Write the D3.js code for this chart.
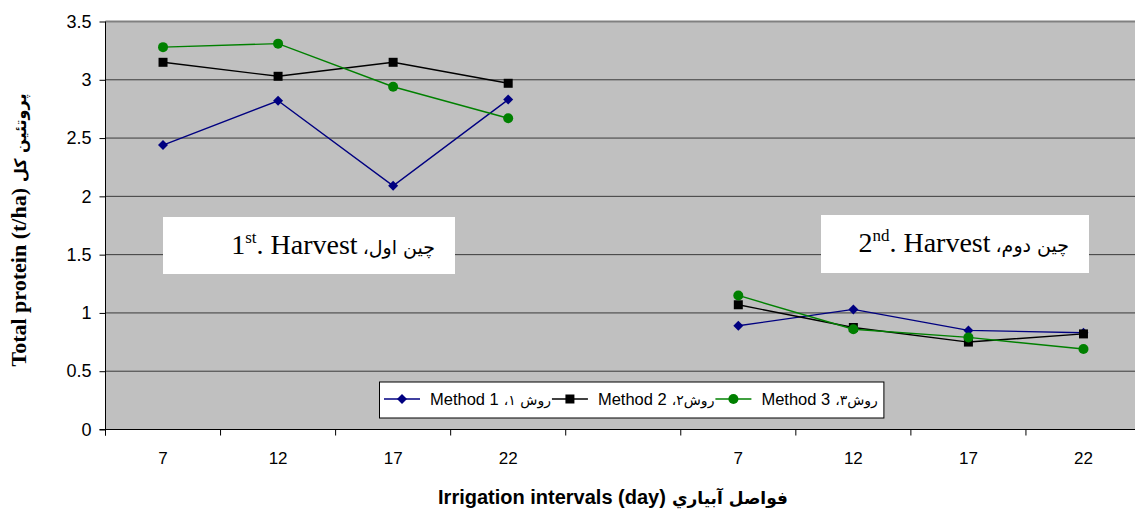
<!DOCTYPE html>
<html>
<head>
<meta charset="utf-8">
<script src="https://cdn.jsdelivr.net/npm/d3@7"></script>
<style>
  body { margin: 0; background: #fff; }
  svg { display: block; }
</style>
</head>
<body>
<div id="chart"></div>
<script>
// values
const tickLabels = ['7', '12', '17', '22', '', '7', '12', '17', '22'];
const method1 = [2.44, 2.82, 2.09, 2.83, null, 0.89, 1.03, 0.85, 0.83];
const method2 = [3.15, 3.03, 3.15, 2.97, null, 1.07, 0.875, 0.75, 0.82];
const method3 = [3.28, 3.31, 2.94, 2.67, null, 1.15, 0.86, 0.79, 0.69];
const yTicks = [0, 0.5, 1, 1.5, 2, 2.5, 3, 3.5];

const series = [
  {name: 'Method 1', fa: 'روش ۱،', values: method1, color: '#000080', marker: 'diamond'},
  {name: 'Method 2', fa: 'روش۲،', values: method2, color: '#000000', marker: 'square'},
  {name: 'Method 3', fa: 'روش۳،', values: method3, color: '#008000', marker: 'circle'}
];

const W = 1135, H = 511;
const margin = {top: 21.5, left: 105.5, bottom: 429.5, right: 1141};

const svg = d3.select('#chart').append('svg')
    .attr('width', W)
    .attr('height', H);

const x = d3.scaleBand()
    .domain(d3.range(tickLabels.length))
    .range([margin.left, margin.right]);

const y = d3.scaleLinear()
    .domain([0, 3.5])
    .range([margin.bottom, margin.top]);

const sans = 'Liberation Sans, Arial, DejaVu Sans, sans-serif';
const serif = 'Liberation Serif, Times New Roman, DejaVu Sans, serif';
const arab = 'DejaVu Sans, Noto Sans, sans-serif';

// plot background
svg.append('rect')
    .attr('x', margin.left)
    .attr('y', y(3.5))
    .attr('width', margin.right - margin.left)
    .attr('height', y(0) - y(3.5))
    .attr('fill', '#c0c0c0');

// gridlines
svg.append('g')
  .selectAll('line')
  .data(yTicks.filter(d => d > 0))
  .join('line')
    .attr('x1', margin.left)
    .attr('x2', margin.right)
    .attr('y1', d => y(d))
    .attr('y2', d => y(d))
    .attr('stroke', d => d === 3.5 ? '#808080' : '#3a3a3a')
    .attr('stroke-width', d => d === 3.5 ? 2 : 1);

// y axis
svg.append('g')
    .attr('transform', `translate(${margin.left},0)`)
    .call(d3.axisLeft(y).tickValues(yTicks).tickSize(6).tickPadding(8).tickFormat(d => String(d)))
    .call(g => g.select('.domain').attr('d', `M0,${y(3.5)}V${y(0) + 6}`).attr('stroke', '#000'))
    .call(g => g.selectAll('.tick line').attr('stroke', '#000'))
    .call(g => g.selectAll('.tick text')
        .attr('font-family', sans)
        .attr('font-size', 18)
        .attr('fill', '#000'));

// x axis: ticks on band edges, labels in the middle
const xAxis = svg.append('g')
    .attr('transform', `translate(0,${margin.bottom})`);
xAxis.append('line')
    .attr('x1', margin.left - 6)
    .attr('x2', W)
    .attr('stroke', '#000');
xAxis.selectAll('.edge')
  .data(d3.range(tickLabels.length + 1))
  .join('line')
    .attr('class', 'edge')
    .attr('x1', i => i < tickLabels.length ? x(i) : margin.right)
    .attr('x2', i => i < tickLabels.length ? x(i) : margin.right)
    .attr('y2', 6)
    .attr('stroke', '#000');
xAxis.call(d3.axisBottom(x).tickSize(0).tickPadding(22).tickFormat(i => tickLabels[i]))
    .call(g => g.select('.domain').remove())
    .call(g => g.selectAll('.tick text')
        .attr('font-family', sans)
        .attr('font-size', 17)
        .attr('fill', '#000'));

// helper: latin part followed by an rtl persian part
function bidi(g, latin, fa, latinFont, faFont, size, faSize, weight, gap) {
  const t1 = g.append('text')
      .attr('font-family', latinFont)
      .attr('font-size', size)
      .attr('font-weight', weight)
      .text(latin);
  const w1 = t1.node().getComputedTextLength();
  const t2 = g.append('text')
      .attr('font-family', faFont)
      .attr('font-size', faSize)
      .attr('font-weight', weight)
      .attr('direction', 'rtl')
      .attr('text-anchor', 'end')
      .text(fa);
  const w2 = t2.node().getComputedTextLength();
  t2.attr('x', w1 + gap);
  return {t1, t2, width: w1 + gap + w2};
}

// harvest boxes
const boxes = [
  {x0: 163, x1: 455, y0: 217, y1: 274, num: '1', sup: 'st', fa: 'چین اول،'},
  {x0: 821, x1: 1089, y0: 215, y1: 273, num: '2', sup: 'nd', fa: 'چین دوم،'}
];
boxes.forEach(b => {
  svg.append('rect')
      .attr('x', b.x0).attr('y', b.y0)
      .attr('width', b.x1 - b.x0).attr('height', b.y1 - b.y0)
      .attr('fill', '#fff');
  const g = svg.append('g');
  const t = g.append('text')
      .attr('font-family', serif)
      .attr('font-size', 28)
      .attr('fill', '#000');
  t.append('tspan').text(b.num);
  t.append('tspan').attr('font-size', 17).attr('dy', -11).text(b.sup);
  t.append('tspan').attr('dy', 11).text('. Harvest');
  const w1 = t.node().getComputedTextLength();
  const fa = g.append('text')
      .attr('font-family', arab)
      .attr('font-size', 19)
      .attr('direction', 'rtl')
      .attr('text-anchor', 'end')
      .text(b.fa);
  const w2 = fa.node().getComputedTextLength();
  fa.attr('x', w1 + 5);
  const right = b.x1 - 20;
  g.attr('transform', `translate(${right - (w1 + 5 + w2)},${b.y0 + 37})`);
});

// lines and markers
const markerPath = {
  diamond: 'M0,-5L5,0L0,5L-5,0Z',
  square: 'M-4.5,-4.5H4.5V4.5H-4.5Z',
  circle: d3.symbol(d3.symbolCircle, Math.PI * 25)()
};

const line = d3.line()
    .defined(d => d != null)
    .x((d, i) => x(i) + x.bandwidth() / 2)
    .y(d => y(d));

series.forEach(s => {
  svg.append('path')
      .datum(s.values)
      .attr('d', line)
      .attr('fill', 'none')
      .attr('stroke', s.color)
      .attr('stroke-width', 1.4);
  svg.append('g')
    .selectAll('path')
    .data(s.values.map((v, i) => ({v, i})).filter(d => d.v != null))
    .join('path')
      .attr('transform', d => `translate(${x(d.i) + x.bandwidth() / 2},${y(d.v)})`)
      .attr('d', markerPath[s.marker])
      .attr('fill', s.color);
});

// legend
const legend = svg.append('g');
const legRect = legend.append('rect')
    .attr('y', 382)
    .attr('height', 36)
    .attr('fill', '#fff')
    .attr('stroke', '#000')
    .attr('stroke-width', 1);
let lx = 384;
const ly = 399;
series.forEach(s => {
  legend.append('line')
      .attr('x1', lx).attr('x2', lx + 36)
      .attr('y1', ly).attr('y2', ly)
      .attr('stroke', s.color)
      .attr('stroke-width', 1.4);
  legend.append('path')
      .attr('transform', `translate(${lx + 18},${ly})`)
      .attr('d', markerPath[s.marker])
      .attr('fill', s.color);
  const g = legend.append('g').attr('transform', `translate(${lx + 46},${ly + 6})`);
  const r = bidi(g, s.name, s.fa, sans, arab, 16.5, 14, 'normal', 5);
  lx = lx + 46 + r.width + 1;
});
legRect.attr('x', 379.5).attr('width', lx + 5 - 379.5);

// y axis title
const yt = svg.append('g');
const ytr = bidi(yt, 'Total protein (t/ha)', 'پروتئین کل', serif, arab, 22, 16, 'bold', 6);
yt.attr('transform', `translate(26,${230 + ytr.width / 2}) rotate(-90)`);

// x axis title
const xt = svg.append('g');
const xtr = bidi(xt, 'Irrigation intervals (day)', 'فواصل آبياري', sans, arab, 20, 17, 'bold', 6);
xt.attr('transform', `translate(${613 - xtr.width / 2},504)`);
</script>
</body>
</html>
